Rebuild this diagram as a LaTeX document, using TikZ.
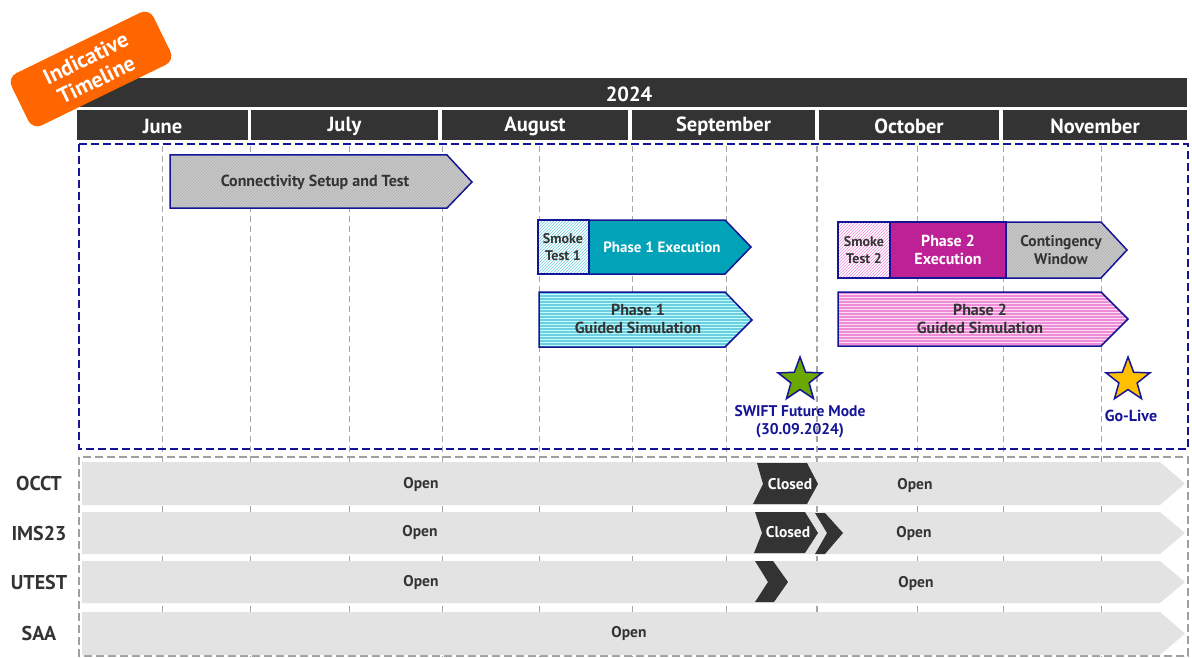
\documentclass[tikz,border=0pt]{standalone}
\usepackage{fontspec}
\setmainfont{PT Sans}
\usetikzlibrary{patterns,shapes.geometric}
\definecolor{navy}{RGB}{20,20,150}
\definecolor{hdr}{RGB}{51,51,51}
\definecolor{badgeorange}{RGB}{255,102,0}
\definecolor{tealbar}{RGB}{0,163,184}
\definecolor{magbar}{RGB}{190,32,150}
\definecolor{rowgray}{RGB}{227,227,227}
\definecolor{hatchgray}{RGB}{200,200,200}
\definecolor{cyanstripe}{RGB}{110,205,222}
\definecolor{pinkstripe}{RGB}{238,140,215}
\definecolor{stargreen}{RGB}{106,168,0}
\definecolor{stargold}{RGB}{255,192,0}

\begin{document}
\begin{tikzpicture}[x=1pt,y=-1pt,
  month/.style={white, font=\bfseries\fontsize{20.5}{20.5}\selectfont},
  bar/.style={draw=navy, line width=1.5pt, line join=miter},
  bartext/.style={text=hdr, align=center, font=\bfseries\fontsize{16}{18}\selectfont},
  smoketext/.style={text=hdr, align=center, font=\bfseries\fontsize{14}{17}\selectfont},
  opentext/.style={text=hdr, font=\bfseries\fontsize{15.5}{15.5}\selectfont},
  rowlabel/.style={text=hdr, font=\bfseries\fontsize{20}{20}\selectfont},
  grid/.style={gray!70, line width=1pt, dash pattern=on 6pt off 4pt},
  starbox/.style={star, star points=5, star point ratio=2.4, minimum size=46pt,
    inner sep=0pt, draw=navy, line width=1.5pt}]
  \useasboundingbox (0,0) rectangle (1192,658);

  % Cabecera: anyo y meses
  \fill[hdr] (77,78) rectangle (1187,107);
  \node[month] (year) at (629,94) {2024};
  \foreach \a/\b/\m in {77/248/June, 251/438/July, 442/628/August,
                        632/815/September, 819/999/October, 1003/1187/November} {
    \fill[hdr] (\a,110) rectangle (\b,140);
    \node[month] (m-\m) at ({(\a+\b)/2},126) {\m};
  }

  % Lineas de la cuadricula
  \foreach \x in {162,250,349,442,539,632,726,917,1003,1101}
    \draw[grid] (\x,146) -- (\x,657);
  \draw[grid, line width=1.8pt] (817,146) -- (817,657);

  % Marcos
  \draw[navy, line width=2.5pt, dash pattern=on 8pt off 4pt] (79,144) rectangle (1188,449);
  \draw[gray!75, line width=2pt, dash pattern=on 8pt off 4pt] (79,457) rectangle (1188,656);

  % Conectividad
  \draw[bar, preaction={fill=hatchgray}, pattern=north east lines, pattern color=gray!60]
    (170,155) -- (447,155) -- (472,182) -- (447,208) -- (170,208) -- cycle;
  \node[bartext] (conn) at (315,182) {Connectivity Setup and Test};

  % Fase 1
  \draw[bar, fill=tealbar] (589,220) -- (725,220) -- (751,247) -- (725,274) -- (589,274) -- cycle;
  \draw[bar, preaction={fill=white}, pattern=north east lines, pattern color=cyanstripe]
    (538,220) rectangle (589,274);
  \node[smoketext] (st1) at (563,247) {Smoke\\Test 1};
  \node[bartext, text=white, font=\bfseries\fontsize{15}{18}\selectfont] (p1exec) at (662,247) {Phase 1 Execution};
  \draw[bar, preaction={fill=cyanstripe}, pattern=horizontal lines, pattern color=white!75!cyan]
    (539,292) -- (725,292) -- (752,320) -- (725,347) -- (539,347) -- cycle;
  \node[bartext] (p1sim) at (638,319) {Phase 1\\Guided Simulation};

  % Fase 2
  \draw[bar, preaction={fill=hatchgray}, pattern=north east lines, pattern color=gray!60]
    (1006,222) -- (1101,222) -- (1127,250) -- (1101,278) -- (1006,278) -- cycle;
  \draw[bar, fill=magbar] (890,222) rectangle (1006,278);
  \draw[bar, preaction={fill=white}, pattern=north east lines, pattern color=pinkstripe]
    (838,222) rectangle (890,278);
  \node[smoketext] (st2) at (864,250) {Smoke\\Test 2};
  \node[bartext, text=white] (p2exec) at (948,250) {Phase 2\\Execution};
  \node[bartext, font=\bfseries\fontsize{15.5}{18}\selectfont] (cont) at (1061,250) {Contingency\\Window};
  \draw[bar, preaction={fill=pinkstripe}, pattern=horizontal lines, pattern color=white!70!pinkstripe]
    (838,292) -- (1101,292) -- (1128,319) -- (1101,346) -- (838,346) -- cycle;
  \node[bartext] (p2sim) at (980,319) {Phase 2\\Guided Simulation};

  % Hitos
  \node[starbox, fill=stargreen] (fm) at (800,380) {};
  \node[bartext, text=navy, font=\bfseries\fontsize{15.5}{18}\selectfont] (fmlbl) at (800,422) {SWIFT Future Mode\\(30.09.2024)};
  \node[starbox, fill=stargold] (golive) at (1128,380) {};
  \node[bartext, text=navy, font=\bfseries\fontsize{16}{18}\selectfont] (golbl) at (1131,416) {Go-Live};

  % Entornos
  \foreach \t/\b/\n in {462/505/OCCT, 512/554/IMS23, 561/603/UTEST, 612/655/SAA} {
    \fill[rowgray] (82,\t) -- (1160,\t) -- (1185,{(\t+\b)/2}) -- (1160,\b) -- (82,\b) -- cycle;
    \node[rowlabel] (r-\n) at (39,{(\t+\b)/2}) {\n};
  }

  % Ventanas cerradas
  \fill[hdr] (757,463) -- (807,463) -- (818,484) -- (807,504) -- (753,504) -- (763,484) -- cycle;
  \node[opentext, text=white] (c1) at (790,484) {Closed};
  \fill[hdr] (755,512) -- (805,512) -- (818,533) -- (805,553) -- (754,553) -- (762,533) -- cycle;
  \node[opentext, text=white] (c2) at (788,532) {Closed};
  \fill[hdr] (815,513) -- (825,513) -- (843,533) -- (825,554) -- (815,554) -- (827,533) -- cycle;
  \fill[hdr] (755,561) -- (773,561) -- (788,582) -- (774,602) -- (755,602) -- (768,582) -- cycle;

  % Etiquetas Open
  \node[opentext] (o1a) at (421,485) {Open};
  \node[opentext] (o1b) at (915,486) {Open};
  \node[opentext] (o2a) at (420,533) {Open};
  \node[opentext] (o2b) at (914,534) {Open};
  \node[opentext] (o3a) at (421,583) {Open};
  \node[opentext] (o3b) at (916,584) {Open};
  \node[opentext] (o4) at (629,634) {Open};

  % Etiqueta indicativa
  \node[fill=badgeorange, rounded corners=10pt, rotate=26, minimum width=158pt,
        minimum height=58pt, align=center, text=white,
        font=\bfseries\fontsize{22}{24}\selectfont] (badge) at (91,69) {Indicative\\Timeline};
\end{tikzpicture}
\end{document}
